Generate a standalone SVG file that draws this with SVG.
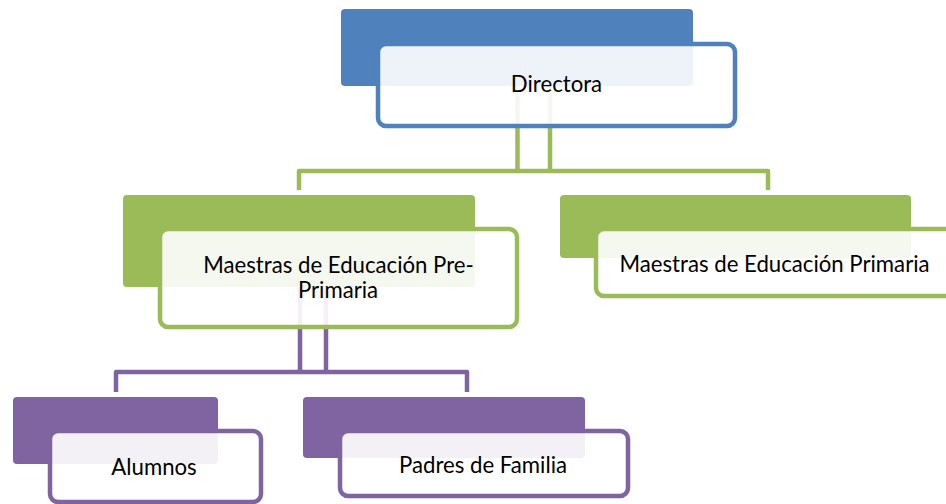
<svg xmlns="http://www.w3.org/2000/svg" width="946" height="504" viewBox="0 0 946 504">
<style>
.lbl{font-family:Lato,"Open Sans","Liberation Sans",sans-serif;font-size:22.2px;fill:#000;text-anchor:middle}
.front{fill:#fff;fill-opacity:0.9;stroke-width:4.5}
.conn{fill:none;stroke-width:4.5;stroke-linejoin:round}
.blue{fill:#4F81BD}.green{fill:#9BBB59}.purple{fill:#8064A2}
</style>
<rect width="946" height="504" fill="#fff"/>
<g id="connectors">
<path class="conn" stroke="#9BBB59" d="M517.5,86 V171 M550,86 V171 M299,190 V171 H768 V190"/>
<path class="conn" stroke="#8064A2" d="M300,287 V372 M326,287 V372 M116,392 V372 H467 V392"/>
</g>
<g id="directora">
<rect class="blue" x="341" y="9" width="352" height="77" rx="4"/>
<rect class="front" stroke="#4F81BD" x="378" y="44" width="357" height="82" rx="8"/>
<text class="lbl" x="556.5" y="92">Directora</text>
</g>
<g id="maestras-preprimaria">
<rect class="green" x="123" y="195" width="352" height="92" rx="4"/>
<rect class="front" stroke="#9BBB59" x="160" y="229" width="357" height="98" rx="8"/>
<text class="lbl" x="338.5" y="272.5">Maestras de Educación Pre-</text>
<text class="lbl" x="338" y="298">Primaria</text>
</g>
<g id="maestras-primaria">
<rect class="green" x="560" y="195" width="351" height="63" rx="4"/>
<rect class="front" stroke="#9BBB59" x="596" y="229" width="357" height="67" rx="8"/>
<text class="lbl" x="774.5" y="272">Maestras de Educación Primaria</text>
</g>
<g id="alumnos">
<rect class="purple" x="13" y="397" width="205" height="67" rx="4"/>
<rect class="front" stroke="#8064A2" x="50" y="431" width="211" height="71" rx="8"/>
<text class="lbl" x="154" y="475">Alumnos</text>
</g>
<g id="padres">
<rect class="purple" x="303" y="397" width="282" height="61" rx="4"/>
<rect class="front" stroke="#8064A2" x="340" y="431" width="288" height="65" rx="8"/>
<text class="lbl" x="483" y="473">Padres de Familia</text>
</g>
</svg>
